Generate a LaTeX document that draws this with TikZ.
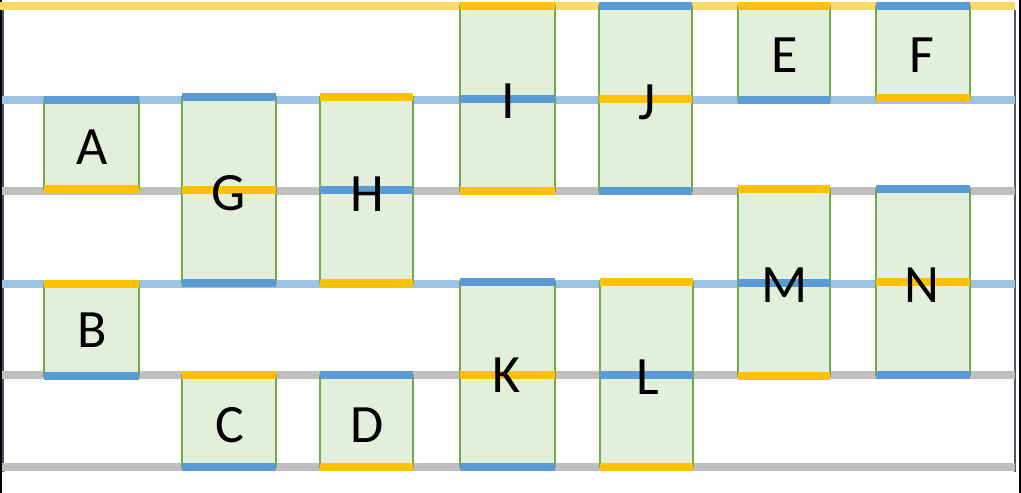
\documentclass[tikz,border=0pt]{standalone}
\usepackage{fontspec}
\setmainfont{Carlito}
\definecolor{lblue}{HTML}{9DC3E6}
\definecolor{dblue}{HTML}{5B9BD5}
\definecolor{orng}{HTML}{FFC000}
\definecolor{ylw}{HTML}{FFD966}
\definecolor{gry}{HTML}{BFBFBF}
\definecolor{grn}{HTML}{70AD47}
\definecolor{gfill}{HTML}{E2EFDA}
\definecolor{framec}{HTML}{4A5568}
\begin{document}
\begin{tikzpicture}[x=1pt,y=-1pt,
  rail/.style={line width=8.5pt},
  blk/.style={draw=grn, line width=1.8pt, fill=gfill, rectangle, inner sep=0pt, outer sep=0pt, anchor=north west},
  ob/.style={orng, line width=8pt},
  bb/.style={dblue, line width=8pt},
  lbl/.style={font=\fontsize{54}{60}\selectfont, text=black, inner sep=0pt, anchor=center}]
\useasboundingbox (0,0) rectangle (1021,493);
\fill[white] (0,0) rectangle (1021,493);
% frame edges
\fill[black] (0,0) rectangle (1.5,493);
\fill[black] (1019,0) rectangle (1021,493);
\coordinate (fl1) at (3,10);
\coordinate (fl2) at (3,472);
\coordinate (fr1) at (1015,10);
\coordinate (fr2) at (1015,472);
\draw[framec, line width=2.5pt] (fl1) -- (fl2);
\draw[framec, line width=2.5pt] (fr1) -- (fr2);
% rails
\coordinate (r0l) at (0,6);   \coordinate (r0r) at (1015,6);
\coordinate (r1l) at (2,100); \coordinate (r1r) at (1015,100);
\coordinate (r2l) at (2,191); \coordinate (r2r) at (1015,191);
\coordinate (r3l) at (2,284); \coordinate (r3r) at (1015,284);
\coordinate (r4l) at (2,375); \coordinate (r4r) at (1015,375);
\coordinate (r5l) at (2,467); \coordinate (r5r) at (1015,467);
\draw[rail, ylw] (r0l) -- (r0r);
\draw[rail, lblue] (r1l) -- (r1r);
\draw[rail, gry] (r2l) -- (r2r);
\draw[rail, lblue] (r3l) -- (r3r);
\draw[rail, gry] (r4l) -- (r4r);
\draw[rail, gry] (r5l) -- (r5r);
% boxes
\node[blk, minimum width=95pt, minimum height=89pt]  (A) at (44,100) {};
\node[blk, minimum width=95pt, minimum height=92pt]  (B) at (44,284) {};
\node[blk, minimum width=94pt, minimum height=186pt] (G) at (182,97) {};
\node[blk, minimum width=94pt, minimum height=92pt]  (C) at (182,375) {};
\node[blk, minimum width=93pt, minimum height=186pt] (H) at (320,97) {};
\node[blk, minimum width=93pt, minimum height=92pt]  (D) at (320,375) {};
\node[blk, minimum width=95pt, minimum height=185pt] (I) at (460,6) {};
\node[blk, minimum width=95pt, minimum height=185pt] (K) at (460,282) {};
\node[blk, minimum width=93pt, minimum height=185pt] (J) at (599,6) {};
\node[blk, minimum width=93pt, minimum height=185pt] (L) at (600,282) {};
\node[blk, minimum width=92pt, minimum height=94pt]  (E) at (738,6) {};
\node[blk, minimum width=94pt, minimum height=92pt]  (F) at (876,6) {};
\node[blk, minimum width=92pt, minimum height=187pt] (M) at (738,189) {};
\node[blk, minimum width=94pt, minimum height=186pt] (N) at (876,189) {};
% coloured edges
\draw[bb] (A.north west) -- (A.north east);
\draw[ob] (A.south west) -- (A.south east);
\draw[ob] (B.north west) -- (B.north east);
\draw[bb] (B.south west) -- (B.south east);
\draw[bb] (G.north west) -- (G.north east);
\draw[ob] (G.west) -- (G.east);
\draw[bb] (G.south west) -- (G.south east);
\draw[ob] (C.north west) -- (C.north east);
\draw[bb] (C.south west) -- (C.south east);
\draw[ob] (H.north west) -- (H.north east);
\draw[bb] (H.west) -- (H.east);
\draw[ob] (H.south west) -- (H.south east);
\draw[bb] (D.north west) -- (D.north east);
\draw[ob] (D.south west) -- (D.south east);
\draw[ob] (I.north west) -- (I.north east);
\draw[bb] (I.west) -- (I.east);
\draw[ob] (I.south west) -- (I.south east);
\draw[bb] (K.north west) -- (K.north east);
\draw[ob] (K.west) -- (K.east);
\draw[bb] (K.south west) -- (K.south east);
\draw[bb] (J.north west) -- (J.north east);
\draw[ob] (J.west) -- (J.east);
\draw[bb] (J.south west) -- (J.south east);
\draw[ob] (L.north west) -- (L.north east);
\draw[bb] (L.west) -- (L.east);
\draw[ob] (L.south west) -- (L.south east);
\draw[ob] (E.north west) -- (E.north east);
\draw[bb] (E.south west) -- (E.south east);
\draw[bb] (F.north west) -- (F.north east);
\draw[ob] (F.south west) -- (F.south east);
\draw[ob] (M.north west) -- (M.north east);
\draw[bb] (M.west) -- (M.east);
\draw[ob] (M.south west) -- (M.south east);
\draw[bb] (N.north west) -- (N.north east);
\draw[ob] (N.west) -- (N.east);
\draw[bb] (N.south west) -- (N.south east);
% labels
\node[lbl] (lA) at (92,147) {A};
\node[lbl] (lB) at (92,330) {B};
\node[lbl] (lC) at (230,425) {C};
\node[lbl] (lD) at (367,425) {D};
\node[lbl] (lE) at (785,55) {E};
\node[lbl] (lF) at (922,55) {F};
\node[lbl] (lG) at (229,193) {G};
\node[lbl] (lH) at (367,194) {H};
\node[lbl] (lI) at (508,101) {I};
\node[lbl] (lJ) at (647,102) {J};
\node[lbl] (lK) at (507,375) {K};
\node[lbl] (lL) at (648,377) {L};
\node[lbl] (lM) at (785,285) {M};
\node[lbl] (lN) at (922,285) {N};
\end{tikzpicture}
\end{document}
